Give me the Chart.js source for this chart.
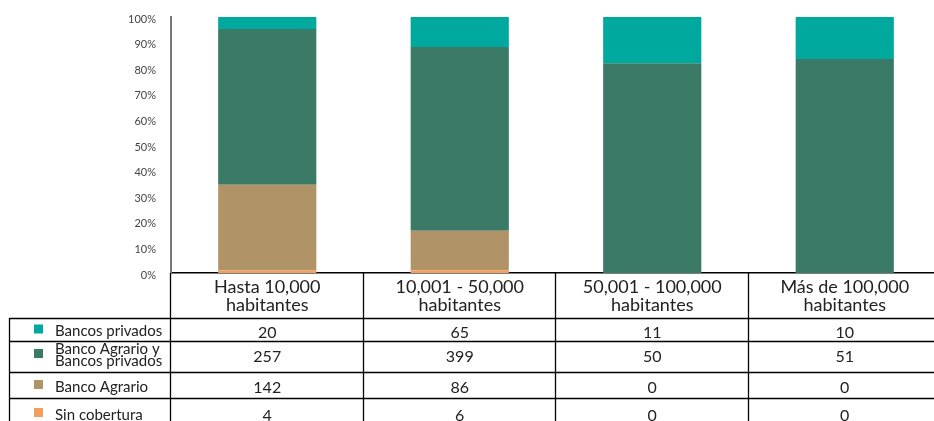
<!DOCTYPE html>
<html>
<head>
<meta charset="utf-8">
<script src="https://cdn.jsdelivr.net/npm/chart.js@4"></script>
<style>
  html, body { margin: 0; padding: 0; background: #fff; overflow: hidden; }
  #wrap { width: 945px; height: 421px; position: relative; }
</style>
</head>
<body>
<div id="wrap"><canvas id="myChart"></canvas></div>
<script>
const categorias = [
  ['Hasta 10,000', 'habitantes'],
  ['10,001 - 50,000', 'habitantes'],
  ['50,001 - 100,000', 'habitantes'],
  ['Más de 100,000', 'habitantes']
];
// filas de la tabla, en el orden en que aparecen (de arriba a abajo)
const nombres = ['Bancos privados', ['Banco Agrario y', 'Bancos privados'], 'Banco Agrario', 'Sin cobertura'];
const bancosPrivados = [20, 65, 11, 10];
const agrarioYPrivados = [257, 399, 50, 51];
const bancoAgrario = [142, 86, 0, 0];
const sinCobertura = [4, 6, 0, 0];
const colores = ['#00a99d', '#3b7a66', '#b09366', '#f29e5f'];

const filas = [bancosPrivados, agrarioYPrivados, bancoAgrario, sinCobertura];
const totales = categorias.map((c, i) => filas.reduce((s, f) => s + f[i], 0));
const pct = arr => arr.map((v, i) => v / totales[i] * 100);

const alturas = [23, 31, 26, 30];

const tabla = {
  id: 'tabla',
  afterDraw(chart) {
    const { ctx, chartArea: a, scales: { x } } = chart;
    const ancho = x.width / categorias.length;
    const top = a.bottom + 45;
    ctx.save();
    ctx.strokeStyle = '#000';
    ctx.lineWidth = 1.3;
    // lineas horizontales
    let y = top;
    const ys = [top];
    alturas.forEach(h => { y += h; ys.push(y); });
    ys.forEach((yy, k) => {
      if (k === ys.length - 1) return;
      ctx.beginPath();
      ctx.moveTo(9.5, Math.round(yy) + 0.5);
      ctx.lineTo(chart.width, Math.round(yy) + 0.5);
      ctx.stroke();
    });
    // lineas verticales
    ctx.beginPath();
    ctx.moveTo(9.5, top);
    ctx.lineTo(9.5, 421);
    ctx.stroke();
    for (let i = 0; i <= categorias.length; i++) {
      const xx = Math.round(a.left + i * ancho) - 0.5;
      ctx.beginPath();
      ctx.moveTo(xx, a.bottom);
      ctx.lineTo(xx, 421);
      ctx.stroke();
    }
    // etiquetas y valores
    ctx.textBaseline = 'middle';
    nombres.forEach((n, r) => {
      const cy = ys[r] + Math.min(alturas[r], 26) / 2 + (r === 3 ? 2 : 0);
      ctx.fillStyle = colores[r];
      ctx.fillRect(34, cy - 5, 9, 9);
      ctx.fillStyle = '#222';
      ctx.font = '15px Lato';
      ctx.textAlign = 'left';
      if (Array.isArray(n)) {
        ctx.fillText(n[0], 55, cy - 5);
        ctx.fillText(n[1], 55, cy + 7);
      } else {
        ctx.fillText(n, 55, cy + 2);
      }
      ctx.font = '16px Lato';
      ctx.textAlign = 'center';
      filas[r].forEach((v, i) => {
        ctx.fillText(String(v), x.getPixelForValue(i), cy + 3);
      });
    });
    ctx.restore();
  }
};

new Chart(document.getElementById('myChart'), {
  type: 'bar',
  data: {
    labels: categorias,
    datasets: [
      { label: 'Sin cobertura', data: pct(sinCobertura), backgroundColor: colores[3] },
      { label: 'Banco Agrario', data: pct(bancoAgrario), backgroundColor: colores[2] },
      { label: 'Banco Agrario y Bancos privados', data: pct(agrarioYPrivados), backgroundColor: colores[1] },
      { label: 'Bancos privados', data: pct(bancosPrivados), backgroundColor: colores[0] }
    ]
  },
  options: {
    responsive: true,
    maintainAspectRatio: false,
    animation: false,
    layout: { padding: { top: 17, bottom: 103, left: 0, right: 4 } },
    datasets: { bar: { barPercentage: 0.51, categoryPercentage: 1, borderWidth: 0 } },
    plugins: { legend: { display: false }, tooltip: { enabled: false } },
    scales: {
      x: {
        stacked: true,
        afterFit(s) { s.height = 45; s.paddingLeft = 0; s.paddingRight = 0; },
        grid: { display: false, drawTicks: false },
        border: { color: '#000', width: 1.5 },
        ticks: {
          padding: 5,
          color: '#222',
          maxRotation: 0,
          autoSkip: false,
          font: { family: 'Lato', size: 18, lineHeight: 1.0 }
        }
      },
      y: {
        stacked: true,
        min: 0,
        max: 100,
        afterFit(s) { s.width = 171; s.paddingTop = 0; s.paddingBottom = 0; },
        grid: { display: false, drawTicks: false },
        border: { color: '#777', width: 2 },
        ticks: {
          stepSize: 10,
          padding: 15,
          labelOffset: 2,
          color: '#444',
          font: { family: 'Lato', size: 11 },
          callback: v => v + '%'
        }
      }
    }
  },
  plugins: [tabla]
});
</script>
</body>
</html>
